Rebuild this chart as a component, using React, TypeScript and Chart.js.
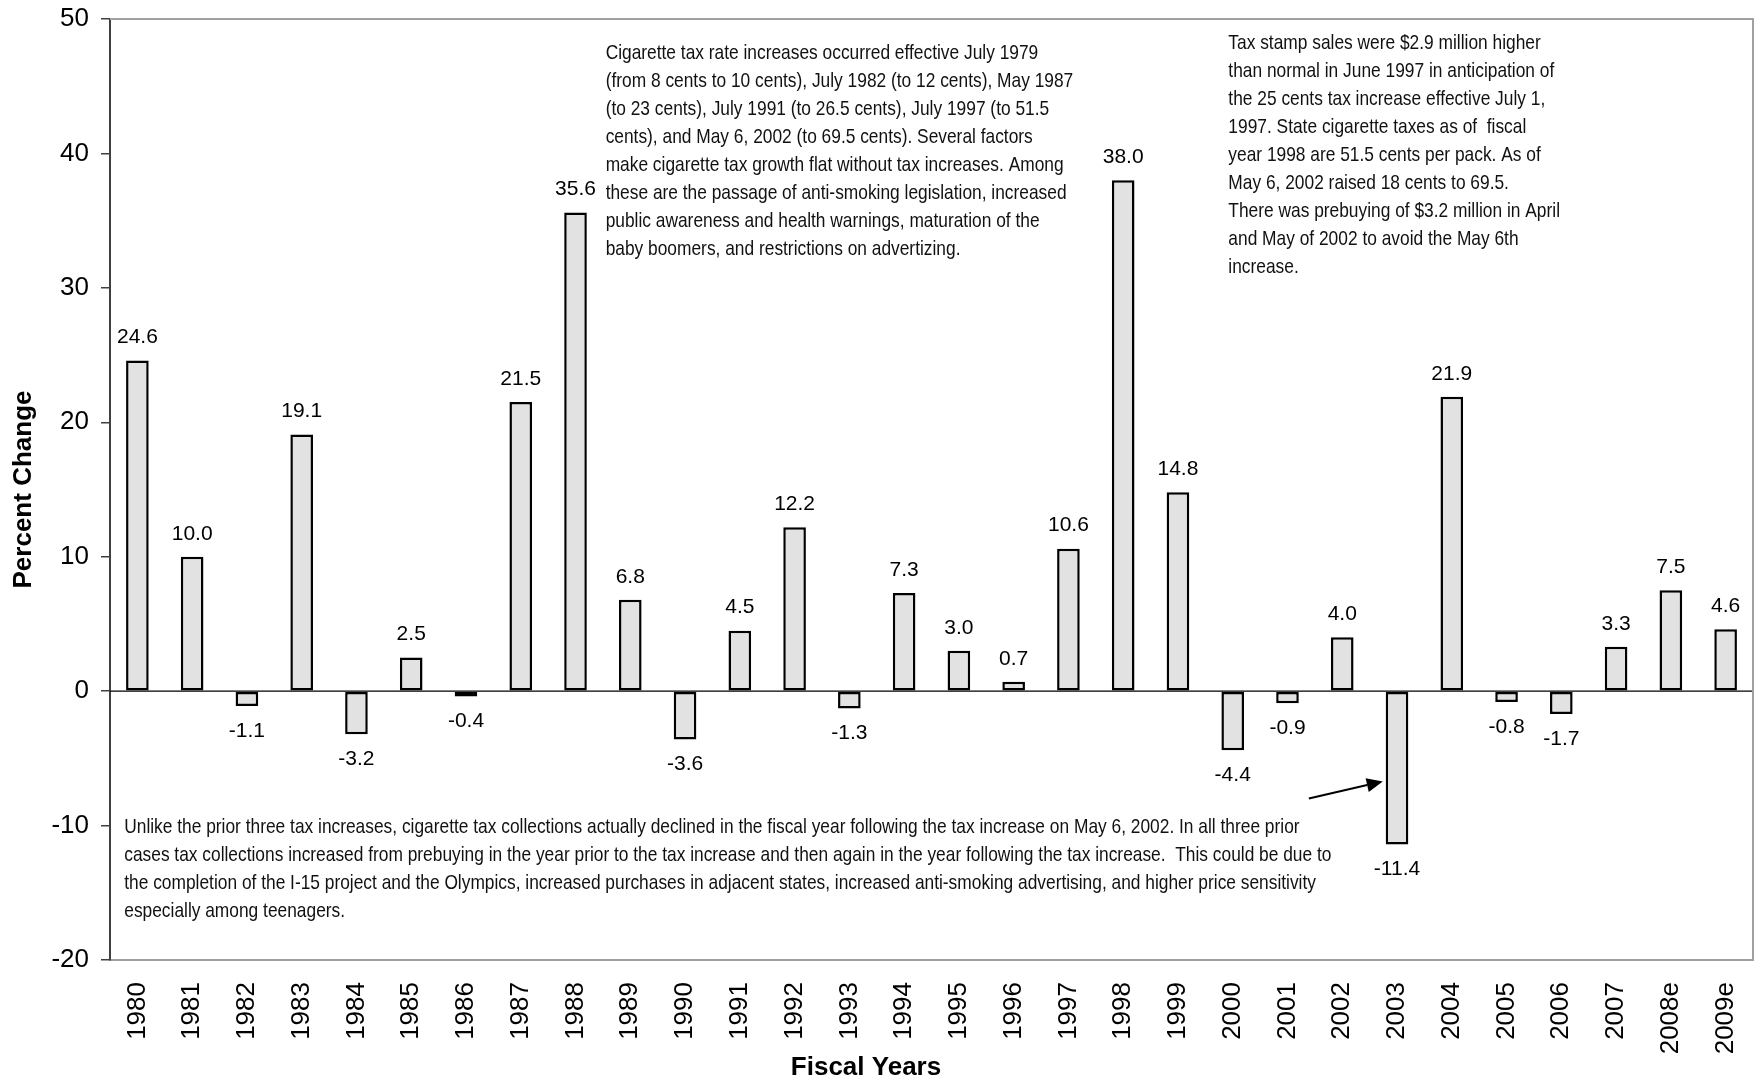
import React, { useEffect, useRef } from "react";
import { Chart, registerables } from "chart.js";

Chart.register(...registerables);

const categories = [
  "1980", "1981", "1982", "1983", "1984", "1985", "1986", "1987", "1988", "1989",
  "1990", "1991", "1992", "1993", "1994", "1995", "1996", "1997", "1998", "1999",
  "2000", "2001", "2002", "2003", "2004", "2005", "2006", "2007", "2008e", "2009e",
];

const percentChange = [
  24.6, 10.0, -1.1, 19.1, -3.2, 2.5, -0.4, 21.5, 35.6, 6.8,
  -3.6, 4.5, 12.2, -1.3, 7.3, 3.0, 0.7, 10.6, 38.0, 14.8,
  -4.4, -0.9, 4.0, -11.4, 21.9, -0.8, -1.7, 3.3, 7.5, 4.6,
];

const yMin = -20;
const yMax = 50;
const yStep = 10;

const xTitle = "Fiscal Years";
const yTitle = "Percent Change";

const noteRates = [
  "Cigarette tax rate increases occurred effective July 1979",
  "(from 8 cents to 10 cents), July 1982 (to 12 cents), May 1987",
  "(to 23 cents), July 1991 (to 26.5 cents), July 1997 (to 51.5",
  "cents), and May 6, 2002 (to 69.5 cents). Several factors",
  "make cigarette tax growth flat without tax increases. Among",
  "these are the passage of anti-smoking legislation, increased",
  "public awareness and health warnings, maturation of the",
  "baby boomers, and restrictions on advertizing.",
];

const noteStamps = [
  "Tax stamp sales were $2.9 million higher",
  "than normal in June 1997 in anticipation of",
  "the 25 cents tax increase effective July 1,",
  "1997. State cigarette taxes as of  fiscal",
  "year 1998 are 51.5 cents per pack. As of",
  "May 6, 2002 raised 18 cents to 69.5.",
  "There was prebuying of $3.2 million in April",
  "and May of 2002 to avoid the May 6th",
  "increase.",
];

const noteDecline = [
  "Unlike the prior three tax increases, cigarette tax collections actually declined in the fiscal year following the tax increase on May 6, 2002. In all three prior",
  "cases tax collections increased from prebuying in the year prior to the tax increase and then again in the year following the tax increase.  This could be due to",
  "the completion of the I-15 project and the Olympics, increased purchases in adjacent states, increased anti-smoking advertising, and higher price sensitivity",
  "especially among teenagers.",
];

// note anchors: [category index (fractional), value]
const noteRatesAt = [8.55, 47.45];
const noteStampsAt = [19.92, 48.2];
const noteDeclineAt = [-0.24, -10.15];
const arrowFrom = [21.39, -7.99];
const arrowTo = [22.74, -6.72];

const SANS = '"Liberation Sans", Arial, Helvetica, sans-serif';
const NARROW_SCALE = 0.826;

const overlay = {
  id: "overlay",
  beforeDatasetsDraw(chart: any) {
    const { ctx, chartArea: a, scales } = chart;
    const y0 = scales.y.getPixelForValue(0);
    ctx.save();
    ctx.strokeStyle = "#000";
    ctx.lineWidth = 1.2;
    ctx.beginPath();
    ctx.moveTo(a.left, y0);
    ctx.lineTo(a.right, y0);
    ctx.stroke();
    ctx.restore();
  },
  afterDraw(chart: any) {
    const { ctx, chartArea: a, scales } = chart;
    const xs = scales.x;
    const ys = scales.y;
    const px0 = xs.getPixelForValue(0);
    const step = xs.getPixelForValue(1) - px0;
    const cx = (f: number) => px0 + f * step;
    ctx.save();

    // frame top/right
    ctx.strokeStyle = "#a0a0a0";
    ctx.lineWidth = 2;
    ctx.beginPath();
    ctx.moveTo(a.left, a.top);
    ctx.lineTo(a.right, a.top);
    ctx.lineTo(a.right, a.bottom);
    ctx.stroke();

    // data labels
    ctx.fillStyle = "#000";
    ctx.font = `21px ${SANS}`;
    ctx.textAlign = "center";
    ctx.textBaseline = "middle";
    const meta = chart.getDatasetMeta(0);
    meta.data.forEach((bar: any, i: number) => {
      const v = percentChange[i];
      const yy = v >= 0 ? bar.y - 23 : bar.y + 25;
      ctx.fillText(v.toFixed(1), bar.x, yy);
    });

    // notes (Arial-Narrow-like rendering)
    ctx.font = `21px ${SANS}`;
    ctx.textAlign = "left";
    ctx.fillStyle = "#111";
    const drawNote = (lines: string[], at: number[]) => {
      const x = cx(at[0]);
      const y = ys.getPixelForValue(at[1]);
      lines.forEach((ln, i) => {
        ctx.save();
        ctx.translate(x, y + i * 28);
        ctx.scale(NARROW_SCALE, 1);
        ctx.fillText(ln, 0, 0);
        ctx.restore();
      });
    };
    drawNote(noteRates, noteRatesAt);
    drawNote(noteStamps, noteStampsAt);
    drawNote(noteDecline, noteDeclineAt);

    // arrow
    const ax1 = cx(arrowFrom[0]);
    const ay1 = ys.getPixelForValue(arrowFrom[1]);
    const ax2 = cx(arrowTo[0]);
    const ay2 = ys.getPixelForValue(arrowTo[1]);
    const ang = Math.atan2(ay2 - ay1, ax2 - ax1);
    const hl = 16;
    const hw = 7;
    const bx = ax2 - hl * Math.cos(ang);
    const by = ay2 - hl * Math.sin(ang);
    ctx.strokeStyle = "#000";
    ctx.lineWidth = 2;
    ctx.beginPath();
    ctx.moveTo(ax1, ay1);
    ctx.lineTo(bx, by);
    ctx.stroke();
    ctx.beginPath();
    ctx.moveTo(ax2, ay2);
    ctx.lineTo(bx + hw * Math.sin(ang), by - hw * Math.cos(ang));
    ctx.lineTo(bx - hw * Math.sin(ang), by + hw * Math.cos(ang));
    ctx.closePath();
    ctx.fillStyle = "#000";
    ctx.fill();

    // axis titles
    ctx.fillStyle = "#000";
    ctx.font = `bold 26px ${SANS}`;
    ctx.textAlign = "center";
    ctx.textBaseline = "middle";
    ctx.fillText(xTitle, 866, 1068);
    ctx.save();
    ctx.translate(24, (a.top + a.bottom) / 2);
    ctx.rotate(-Math.PI / 2);
    ctx.fillText(yTitle, 0, 0);
    ctx.restore();

    ctx.restore();
  },
};

export default function App() {
  const ref = useRef<HTMLCanvasElement>(null);
  useEffect(() => {
    document.body.style.margin = "0";
    const chart = new Chart(ref.current as HTMLCanvasElement, {
      type: "bar",
      data: {
        labels: categories,
        datasets: [
          {
            data: percentChange,
            backgroundColor: "#e2e2e2",
            borderColor: "#000",
            borderWidth: 2.5,
            borderSkipped: false,
            categoryPercentage: 1,
            barPercentage: 0.413,
          },
        ],
      },
      options: {
        animation: false,
        responsive: true,
        maintainAspectRatio: false,
        layout: { padding: { top: 19, right: 1, left: 0, bottom: 0 } },
        plugins: { legend: { display: false }, tooltip: { enabled: false }, title: { display: false } },
        scales: {
          x: {
            grid: { display: false, drawTicks: false },
            border: { display: true, color: "#a0a0a0", width: 2 },
            ticks: {
              autoSkip: false,
              minRotation: 90,
              maxRotation: 90,
              padding: 22,
              color: "#000",
              font: { family: SANS, size: 26 },
            },
            afterFit: (s: any) => {
              s.height = 120;
              s.paddingLeft = 0;
              s.paddingRight = 0;
            },
          },
          y: {
            min: yMin,
            max: yMax,
            grid: { drawOnChartArea: false, drawTicks: true, tickLength: 9, color: "#404040", lineWidth: 1.5 },
            border: { display: true, color: "#404040", width: 2 },
            ticks: {
              stepSize: yStep,
              padding: 12,
              color: "#000",
              font: { family: SANS, size: 26 },
            },
            afterFit: (s: any) => {
              s.width = 110;
              s.paddingTop = 0;
              s.paddingBottom = 0;
            },
          },
        },
      },
      plugins: [overlay],
    });
    return () => chart.destroy();
  }, []);
  return (
    <div style={{ position: "relative", width: "1754px", height: "1080px" }}>
      <canvas ref={ref} />
    </div>
  );
}
